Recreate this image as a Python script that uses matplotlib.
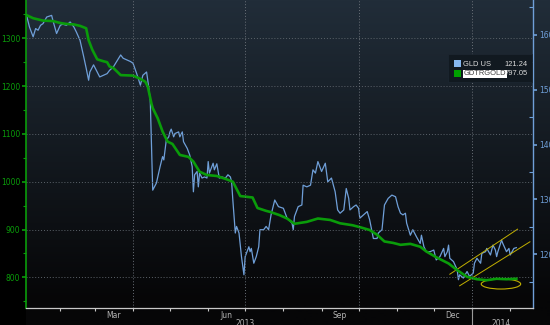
import numpy as np
import pandas as pd
import matplotlib
matplotlib.use("Agg")
import matplotlib.pyplot as plt
import matplotlib.dates as mdates
import matplotlib.transforms as mtransforms
from matplotlib.patches import Ellipse, Rectangle

START = pd.Timestamp("2013-01-01")

# GDTRGOLD (left axis), x = days since 2013-01-01
gdtr_day = [4, 9, 17, 25, 31, 36, 42, 47, 52, 54, 57, 61, 66, 69, 71, 74, 80, 90, 96, 100,
            102, 105, 106, 110, 114, 118, 122, 128, 135, 139, 144, 150, 158, 166, 171, 177,
            187, 191, 198, 201, 209, 215, 221, 231, 240, 250, 258, 268, 274, 282, 288, 294,
            301, 307, 315, 323, 328, 336, 346, 353, 361, 369, 377, 385, 393, 401]
gdtr_val = [1348, 1342, 1337, 1336, 1332, 1330, 1329, 1326, 1321, 1296, 1276, 1256, 1252, 1250,
            1241, 1238, 1223, 1222, 1215, 1209, 1199, 1163, 1154, 1133, 1105, 1084, 1079, 1056,
            1052, 1042, 1021, 1014, 1012, 1005, 1000, 970, 967, 945, 939, 937, 930, 923, 912,
            916, 923, 920, 913, 909, 905, 899, 889, 875, 872, 868, 870, 864, 854, 842, 829, 815,
            801, 796, 794, 797, 796, 797.05]

# GLD US (right axis), x = days since 2013-01-01
gld_day = [4, 6, 9, 11, 13, 15, 17, 20, 24, 25, 28, 31, 33, 36, 39, 42, 44, 47, 50, 52,
           54, 55, 58, 61, 63, 66, 69, 71, 74, 80, 82, 88, 90, 93, 96, 98, 101, 102, 104, 106,
           109, 112, 114, 115, 117, 119, 120, 121, 123, 124, 127, 128, 130, 131, 134, 136, 138, 139, 140, 142,
           143, 144, 146, 148, 150, 151, 152, 154, 155, 156, 158, 160, 162, 165, 167, 169, 170, 171, 173, 174,
           176, 178, 180, 181, 184, 185, 186, 188, 190, 192, 193, 196, 198, 200, 202, 205, 208, 212, 215, 219,
           220, 221, 224, 227, 228, 231, 234, 236, 238, 240, 243, 246, 248, 251, 254, 256, 258, 261, 263, 265,
           266, 269, 271, 273, 274, 277, 280, 282, 285, 288, 289, 292, 294, 297, 300, 303, 305, 307, 309, 311,
           312, 315, 317, 320, 323, 324, 326, 328, 331, 334, 336, 339, 342, 343, 345, 346, 347, 350, 353, 354,
           355, 358, 361, 363, 366, 367, 369, 372, 373, 376, 377, 380, 382, 384, 385, 386, 389, 390, 393, 395,
           396, 399, 401]
gld_val = [163.2, 161.4, 159.6, 161.1, 160.8, 161.7, 162.0, 163.2, 163.5, 162.6, 160.2, 161.7, 161.9, 161.7, 162.3, 161.4, 160.5, 159.0, 156.0, 153.9,
           151.7, 153.2, 154.5, 153.2, 152.3, 152.6, 152.9, 153.5, 154.1, 156.3, 155.7, 155.1, 154.8, 152.9, 150.8, 152.6, 153.2, 151.7, 148.1, 131.7,
           133.0, 136.0, 137.8, 137.2, 140.8, 141.4, 142.3, 142.8, 141.4, 142.0, 142.3, 141.4, 142.3, 140.5, 139.3, 138.1, 136.0, 131.4, 134.5, 135.1,
           132.3, 134.8, 133.9, 134.1, 133.9, 136.9, 134.8, 136.0, 136.6, 135.4, 136.5, 133.9, 134.1, 133.9, 134.5, 134.1, 133.2, 129.9, 123.9, 125.1,
           123.9, 119.6, 116.3, 119.6, 121.4, 120.5, 121.1, 118.4, 119.6, 121.4, 124.5, 124.5, 125.1, 124.5, 127.2, 129.9, 128.7, 128.4, 126.6, 125.7,
           124.5, 126.9, 128.7, 129.0, 132.6, 132.3, 132.6, 135.4, 134.8, 136.9, 135.1, 136.6, 133.2, 133.9, 131.4, 128.1, 127.5, 128.1, 132.0, 130.2,
           128.1, 128.7, 129.0, 128.4, 126.6, 127.2, 127.8, 126.3, 122.9, 122.9, 123.9, 124.5, 129.0, 130.2, 130.8, 130.5, 128.7, 127.5, 127.2, 127.5,
           125.7, 123.5, 124.5, 123.2, 122.0, 123.5, 121.4, 120.5, 120.5, 120.8, 119.0, 119.6, 121.1, 119.6, 120.5, 121.7, 119.3, 118.7, 117.2, 115.4,
           116.3, 115.7, 116.9, 116.0, 116.6, 118.4, 119.3, 118.4, 120.2, 120.5, 121.1, 119.9, 121.7, 120.8, 119.6, 120.5, 122.6, 122.0, 120.5, 121.1,
           119.9, 121.1, 121.24]

# yellow annotation: rising channel on GLD, flat ellipse on GDTRGOLD
chan_upper_day = [347, 402]
chan_upper_val = [116.4, 124.6]
chan_lower_day = [355, 412]
chan_lower_val = [114.3, 122.3]
flat_day, flat_val = 388.5, 786

left_ticks = [800, 900, 1000, 1100, 1200, 1300]
right_ticks = [120, 130, 140, 150, 160]
month_labels = ["Mar", "Jun", "Sep", "Dec"]


def to_dates(days):
    return START + pd.to_timedelta(np.asarray(days, dtype=float), unit="D")


GREEN = "#0a9c0a"
BLUE = "#6f9fd8"
YELLOW = "#c2b000"

fig = plt.figure(figsize=(5.5, 3.25), dpi=100, facecolor="black")

# background gradient
bg = fig.add_axes([26 / 550, 0, 1 - 26 / 550, 1])
top = np.array([0x21, 0x2d, 0x39]) / 255
bot = np.array([0x06, 0x06, 0x07]) / 255
t = np.clip(np.linspace(0, 1, 300) * 1.08, 0, 1)[:, None]
grad = top * (1 - t) + bot * t
bg.imshow(grad[:, None, :], aspect="auto", extent=[0, 1, 0, 1])
bg.axis("off")

ax = fig.add_axes([26 / 550, 1 - 308.3 / 325, 507 / 550, 308.3 / 325])
ax2 = ax.twinx()
ax.set_zorder(3)
ax2.set_zorder(2)
ax.patch.set_visible(False)
ax2.patch.set_visible(False)

ax2.plot(to_dates(gld_day), gld_val, color=BLUE, lw=0.9)
ax.plot(to_dates(gdtr_day), gdtr_val, color=GREEN, lw=1.9)

ax2.plot(to_dates(chan_upper_day), chan_upper_val, color=YELLOW, lw=0.7)
ax2.plot(to_dates(chan_lower_day), chan_lower_val, color=YELLOW, lw=0.7)
ax.add_patch(Ellipse((mdates.date2num(START + pd.Timedelta(days=flat_day)), flat_val),
                     width=32, height=21, fill=False, edgecolor=YELLOW, lw=0.8))

ax.set_xlim(to_dates([3.2])[0], to_dates([414.5])[0])
ax.set_ylim(735.2, 1380.1)
ax2.set_ylim(110.2, 166.3)

# left axis
ax.set_yticks(left_ticks)
ax.set_yticks([750, 850, 950, 1050, 1150, 1250, 1350], minor=True)
ax.tick_params(axis="y", which="major", colors=GREEN, labelsize=5.5, length=3, width=1.2, pad=1)
ax.tick_params(axis="y", which="minor", colors=GREEN, length=2.5, width=0.8)
ax.yaxis.grid(True, which="major", color="#5c636b", ls=(0, (1, 2)), lw=0.7)

# right axis
ax2.set_yticks(right_ticks)
ax2.set_yticks([115, 125, 135, 145, 155, 165], minor=True)
ax2.tick_params(axis="y", which="major", colors=BLUE, labelsize=5.5, length=3, width=1.2, pad=1.5)
ax2.tick_params(axis="y", which="minor", colors=BLUE, direction="in", length=3, width=0.8)

# x axis: month ticks, quarter grid, mid-month labels
months = pd.date_range("2013-02-01", "2014-02-01", freq="MS")
ax.set_xticks(months)
ax.set_xticklabels([""] * len(months))
ax.tick_params(axis="x", which="major", colors="#c8c8c8", length=2, width=0.8)
label_dates = pd.to_datetime(["2013-03-16", "2013-06-16", "2013-09-16", "2013-12-16"])
ax.set_xticks(label_dates, minor=True)
ax.set_xticklabels(month_labels, minor=True)
ax.tick_params(axis="x", which="minor", length=0, labelsize=5.5, labelcolor="#b4b4b4", pad=2)
for q in pd.to_datetime(["2013-04-01", "2013-07-01", "2013-10-01", "2014-01-01"]):
    ax.axvline(q, color="#6a7078", ls=(0, (1, 2)), lw=0.7)

trans = mtransforms.blended_transform_factory(ax.transData, fig.transFigure)
ax.text(pd.Timestamp("2013-07-01"), 6 / 325, "2013", transform=trans, ha="center", va="top",
        fontsize=5.5, color="#b4b4b4")
ax.text(pd.Timestamp("2014-01-25"), 6 / 325, "2014", transform=trans, ha="center", va="top",
        fontsize=5.5, color="#b4b4b4")
ax.plot([pd.Timestamp("2014-01-01")] * 2, [0, 16.7 / 325], transform=trans, color="#9a9a9a",
        lw=0.8, clip_on=False)

for s in ["top", "right"]:
    ax.spines[s].set_visible(False)
ax.spines["left"].set_color(GREEN)
ax.spines["left"].set_linewidth(1.2)
ax.spines["bottom"].set_color("#c8c8c8")
ax.spines["bottom"].set_linewidth(0.9)
for s in ["top", "left", "bottom"]:
    ax2.spines[s].set_visible(False)
ax2.spines["right"].set_color(BLUE)
ax2.spines["right"].set_linewidth(1.0)

# legend box
def fx(px):
    return px / 550


def fy(py):
    return 1 - py / 325


LEG_FONT = dict(fontsize=5.4, family="Liberation Sans", va="center", zorder=12)
fig.patches.append(Rectangle((fx(448), fy(82)), fx(84), 28 / 325, transform=fig.transFigure,
                             facecolor="#111920", edgecolor="#1c2630", lw=0.6, zorder=10))
fig.patches.append(Rectangle((fx(454), fy(67)), fx(7), 7 / 325, transform=fig.transFigure,
                             facecolor="#86b8f0", edgecolor="none", zorder=11))
fig.patches.append(Rectangle((fx(454), fy(77)), fx(7), 7 / 325, transform=fig.transFigure,
                             facecolor="#00a000", edgecolor="none", zorder=11))
fig.text(fx(463), fy(64), "GLD US", color="#dcdcdc", **LEG_FONT)
fig.text(fx(528), fy(64), "121.24", color="#dcdcdc", ha="right", **LEG_FONT)
fig.text(fx(464), fy(74), "GDTRGOLD", color="#404040",
         bbox=dict(boxstyle="square,pad=0.12", facecolor="white", edgecolor="none"), **LEG_FONT)
fig.text(fx(528), fy(74), "797.05", color="#dcdcdc", ha="right", **LEG_FONT)

fig.savefig("out.png", dpi=100, facecolor="black")
